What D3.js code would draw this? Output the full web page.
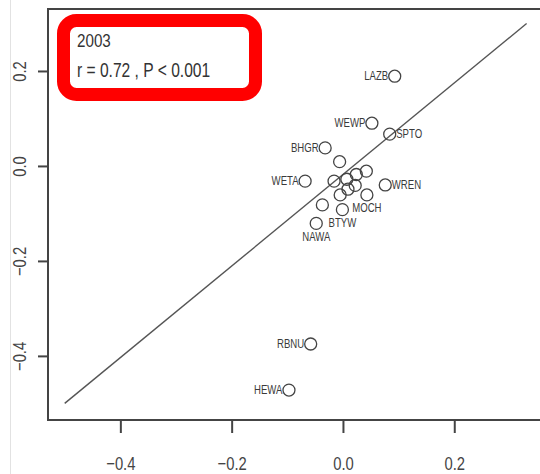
<!DOCTYPE html>
<html>
<head>
<meta charset="utf-8">
<script src="https://cdn.jsdelivr.net/npm/d3@7"></script>
<style>
  body { margin: 0; background: #fff; }
  svg { display: block; }
  text { font-family: "Liberation Sans", Arial, sans-serif; }
</style>
</head>
<body>
<div id="chart"></div>
<script>
// species codes (blank = unlabeled point)
var species = ["LAZB", "WEWP", "SPTO", "BHGR", "", "WETA", "", "", "", "", "", "", "",
               "WREN", "MOCH", "", "BTYW", "NAWA", "RBNU", "HEWA"];
var xVals = [0.093, 0.052, 0.084, -0.032, -0.006, -0.068, -0.016, 0.007, 0.024, 0.042,
             0.022, 0.009, -0.005, 0.076, 0.043, -0.037, -0.001, -0.048, -0.058, -0.097];
var yVals = [0.189, 0.090, 0.067, 0.038, 0.009, -0.032, -0.032, -0.028, -0.018, -0.011,
             -0.041, -0.049, -0.061, -0.040, -0.061, -0.082, -0.092, -0.121, -0.375, -0.472];
var labelSide = ["left", "left", "right", "left", "", "left", "", "", "", "", "", "", "",
                 "right", "below", "", "below", "below", "left", "left"];

var fitLine = [[-0.5, -0.5], [0.33, 0.30]];
var xTicks = [-0.4, -0.2, 0.0, 0.2];
var yTicks = [-0.4, -0.2, 0.0, 0.2];
var yearLabel = "2003";
var statLabel = "r = 0.72 , P < 0.001";

var width = 540, height = 474;
var squeeze = 0.8;   // the original picture is stretched vertically, so text looks narrow

var svg = d3.select("#chart").append("svg")
    .attr("width", width)
    .attr("height", height);

// faint page edge on the left
svg.append("line")
    .attr("x1", 10.5).attr("x2", 10.5)
    .attr("y1", 0).attr("y2", height)
    .attr("stroke", "#e2e2e2");

var x = d3.scaleLinear().domain([-0.53, 0.39]).range([48, 560]);
var y = d3.scaleLinear().domain([-0.535, 0.3305]).range([420, 9]);

// plot frame
svg.append("rect")
    .attr("x", x.range()[0]).attr("y", y.range()[1])
    .attr("width", x.range()[1] - x.range()[0])
    .attr("height", y.range()[0] - y.range()[1])
    .attr("fill", "none")
    .attr("stroke", "#444")
    .attr("stroke-width", 2);

// x axis
var xAxis = svg.append("g")
    .attr("transform", "translate(0," + y.range()[0] + ")")
    .call(d3.axisBottom(x).tickValues(xTicks).tickSize(13).tickFormat(d3.format(".1f")));
xAxis.select(".domain").remove();
xAxis.selectAll("line").attr("stroke", "#444").attr("stroke-width", 2);
xAxis.selectAll("text")
    .attr("y", null).attr("dy", null)
    .attr("transform", "translate(0,50) scale(" + squeeze + ",1)")
    .attr("fill", "#444")
    .style("font-size", "18.5px");

// y axis
var yAxis = svg.append("g")
    .attr("transform", "translate(" + x.range()[0] + ",0)")
    .call(d3.axisLeft(y).tickValues(yTicks).tickSize(10).tickFormat(d3.format(".1f")));
yAxis.select(".domain").remove();
yAxis.selectAll("line").attr("stroke", "#444").attr("stroke-width", 2);
yAxis.selectAll("text")
    .attr("x", null).attr("dy", null)
    .attr("transform", "translate(-22,0) rotate(-90) scale(" + squeeze + ",1)")
    .attr("text-anchor", "middle")
    .attr("fill", "#444")
    .style("font-size", "18.5px");

// reference line
svg.append("line")
    .attr("x1", x(fitLine[0][0])).attr("y1", y(fitLine[0][1]))
    .attr("x2", x(fitLine[1][0])).attr("y2", y(fitLine[1][1]))
    .attr("stroke", "#555")
    .attr("stroke-width", 1.4);

var data = species.map(function(s, i) {
  return {name: s, x: xVals[i], y: yVals[i], side: labelSide[i]};
});

svg.selectAll("circle.pt")
    .data(data)
    .enter().append("circle")
    .attr("class", "pt")
    .attr("cx", function(d) { return x(d.x); })
    .attr("cy", function(d) { return y(d.y); })
    .attr("r", 6)
    .attr("fill", "none")
    .attr("stroke", "#444")
    .attr("stroke-width", 1.3);

svg.selectAll("text.lab")
    .data(data.filter(function(d) { return d.name !== ""; }))
    .enter().append("text")
    .attr("class", "lab")
    .attr("transform", function(d) {
      var tx = x(d.x), ty = y(d.y) + 4.2;
      if (d.side === "left") tx -= 6.5;
      if (d.side === "right") tx += 6.5;
      if (d.side === "below") ty = y(d.y) + 17.5;
      return "translate(" + tx + "," + ty + ") scale(" + squeeze + ",1)";
    })
    .attr("text-anchor", function(d) {
      return d.side === "left" ? "end" : (d.side === "right" ? "start" : "middle");
    })
    .attr("fill", "#3a3a3a")
    .style("font-size", "12px")
    .text(function(d) { return d.name; });

// red highlight box
svg.append("rect")
    .attr("x", 63.5).attr("y", 20.5)
    .attr("width", 192).attr("height", 74)
    .attr("rx", 13).attr("ry", 13)
    .attr("fill", "#fff")
    .attr("stroke", "#ff0000")
    .attr("stroke-width", 13);

svg.append("text")
    .attr("transform", "translate(77,47) scale(" + squeeze + ",1)")
    .attr("fill", "#333")
    .style("font-size", "19px")
    .text(yearLabel);

svg.append("text")
    .attr("transform", "translate(77,77) scale(" + squeeze + ",1)")
    .attr("fill", "#333")
    .style("font-size", "19.5px")
    .text(statLabel);
</script>
</body>
</html>
